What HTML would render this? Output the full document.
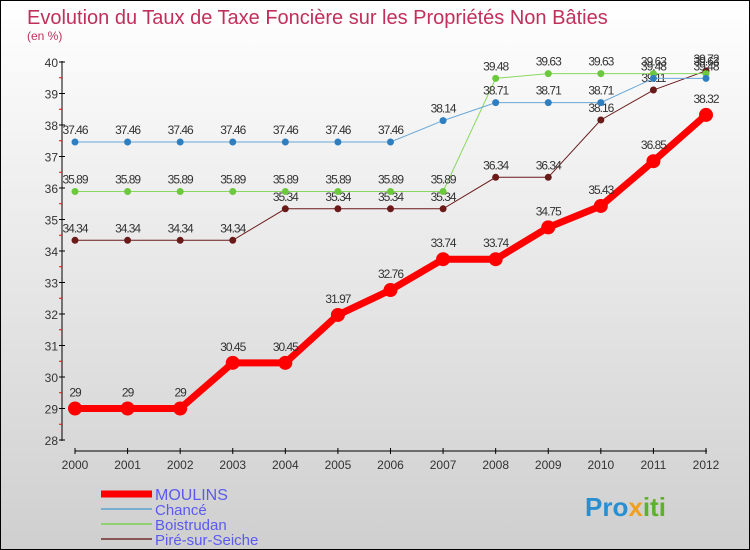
<!DOCTYPE html>
<html><head><meta charset="utf-8"><style>
body{margin:0}
#wrap{position:relative;width:748px;height:548px;border:1px solid #000;background:linear-gradient(#ffffff,#cfcfcf);font-family:"Liberation Sans",sans-serif;overflow:hidden}
</style></head><body>
<div id="wrap">
<svg id="svg" width="748" height="548" xmlns="http://www.w3.org/2000/svg">
<text x="26" y="23" font-size="20" fill="#c0305a">Evolution du Taux de Taxe Foncière sur les Propriétés Non Bâties</text>
<text x="26" y="39" font-size="12" fill="#c0305a">(en %)</text>
<g id="axes"></g><g id="series"></g><g id="legend"></g>
<text x="584" y="515" font-size="26" font-weight="bold" fill="#2a8fd0">Pro<tspan fill="#f0a020">x</tspan><tspan fill="#60b030">iti</tspan></text>
</svg></div>
<script>
const years=["2000","2001","2002","2003","2004","2005","2006","2007","2008","2009","2010","2011","2012"];
const yTicks=[28,29,30,31,32,33,34,35,36,37,38,39,40];
const moulins=[29,29,29,30.45,30.45,31.97,32.76,33.74,33.74,34.75,35.43,36.85,38.32];
const chance=[37.46,37.46,37.46,37.46,37.46,37.46,37.46,38.14,38.71,38.71,38.71,39.48,39.48];
const boistrudan=[35.89,35.89,35.89,35.89,35.89,35.89,35.89,35.89,39.48,39.63,39.63,39.63,39.63];
const pire=[34.34,34.34,34.34,34.34,35.34,35.34,35.34,35.34,36.34,36.34,38.16,39.11,39.72];
const NS="http://www.w3.org/2000/svg";
const X=i=>74+i*(705-74)/12;
const Y=v=>439-(v-28)*(439-61)/12;
function mk(tag,at,parent,txt){const e=document.createElementNS(NS,tag);for(const k in at)e.setAttribute(k,at[k]);if(txt!==undefined)e.textContent=txt;parent.appendChild(e);return e;}
const ax=document.getElementById('axes');
let e=mk('line',{x1:61,y1:60,x2:61,y2:440,stroke:'#000'},ax);


e=mk('line',{x1:74,y1:450,x2:706,y2:450,stroke:'#000'},ax);


yTicks.forEach(v=>{mk('line',{x1:58,y1:Y(v),x2:64,y2:Y(v),stroke:'#000'},ax);
 if(v<40)mk('line',{x1:58,y1:Y(v+0.5),x2:61,y2:Y(v+0.5),stroke:'#f00'},ax);
 e=mk('text',{x:57,y:Y(v)+5,'font-size':12,fill:'#333','text-anchor':'end'},ax,v);
 
 });
years.forEach((y,i)=>{mk('line',{x1:X(i),y1:447,x2:X(i),y2:453,stroke:'#000'},ax);
 e=mk('text',{x:X(i),y:468,'font-size':12,fill:'#333','text-anchor':'middle'},ax,y);
 
 });
const sg=document.getElementById('series');
const defs=[[pire,'#6b1a1a','#6b1a1a',1,3.5,'pire'],[boistrudan,'#88d860','#6cc83c',1,3.5,'boistrudan'],[chance,'#6aa8d8','#2f7fc0',1,3.5,'chance'],[moulins,'#f00','#f00',7,7,'moulins']];
defs.forEach(([d,lc,pc,w,r,n])=>{
 const g=mk('g',{},sg);
 
 
 e=mk('polyline',{points:d.map((v,i)=>X(i)+','+Y(v)).join(' '),fill:'none',stroke:lc,'stroke-width':w},g);
 
 
 d.forEach((v,i)=>{e=mk('circle',{cx:X(i),cy:Y(v),r:r,fill:pc},g);
  
  
  e=mk('text',{x:X(i),y:Y(v)-(n==='moulins'?12:8),'font-size':12,fill:'#333','text-anchor':'middle','letter-spacing':'-1'},g,String(v));
  
  });
});
const lg=document.getElementById('legend');
const leg=[['MOULINS','#f00',7],['Chancé','#7aaed0',2],['Boistrudan','#90d070',2],['Piré-sur-Seiche','#8a5555',2]];
leg.forEach(([t,c,w],i)=>{const y=493+i*15;
 e=mk('line',{x1:100,y1:y,x2:151,y2:y,stroke:c,'stroke-width':w},lg);
 
 
 e=mk('text',{x:154,y:y+6,'font-size':i===0?16:15,fill:'#5a5af0'},lg,t);
 
 });
</script></body></html>
